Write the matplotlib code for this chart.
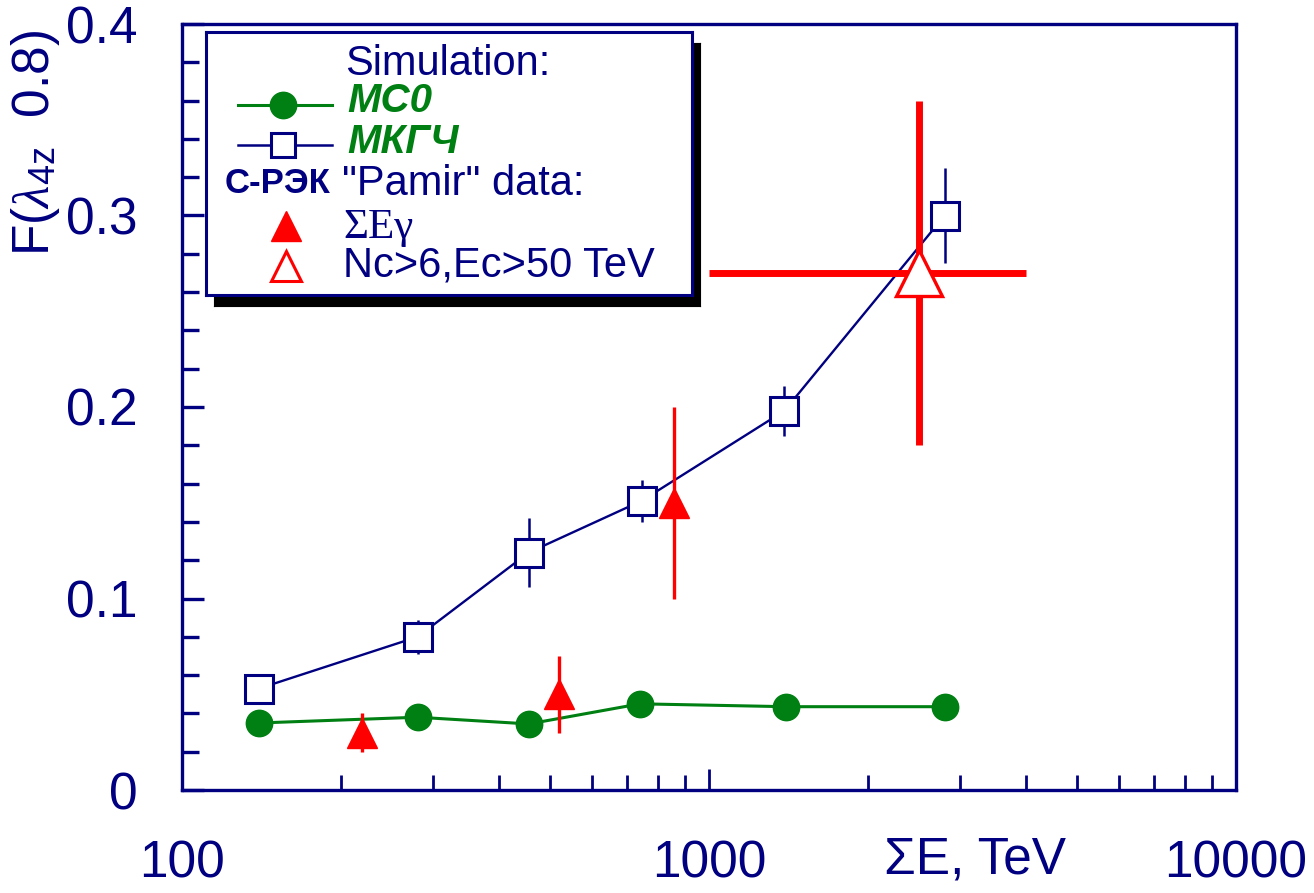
import matplotlib
matplotlib.use("Agg")
import matplotlib.pyplot as plt
from matplotlib.ticker import FixedLocator, NullFormatter, MultipleLocator, FuncFormatter
from matplotlib.lines import Line2D

NAVY = "#000080"
GREEN = "#007f12"
RED = "#ff0000"

plt.rcParams["font.family"] = ["Liberation Sans", "DejaVu Sans"]
plt.rcParams["mathtext.fontset"] = "custom"
plt.rcParams["mathtext.rm"] = "Liberation Sans"
plt.rcParams["mathtext.it"] = "Liberation Serif:italic"

# simulation MC0
mc0_e = [140, 280, 455, 740, 1400, 2800]
mc0_f = [0.035, 0.038, 0.0345, 0.045, 0.0435, 0.0435]

# simulation MKGCh
mkg_e = [140, 280, 455, 745, 1390, 2800]
mkg_f = [0.053, 0.080, 0.124, 0.151, 0.198, 0.300]
mkg_err = [0.0, 0.009, 0.018, 0.011, 0.013, 0.025]

# Pamir data, sum E gamma
seg_e = [220, 520, 860]
seg_f = [0.030, 0.050, 0.150]
seg_lo = [0.010, 0.020, 0.050]
seg_hi = [0.010, 0.020, 0.050]

# Pamir data, Nc>6, Ec>50 TeV
nc_e = [2500]
nc_f = [0.27]
nc_xlo = [1500]
nc_xhi = [1500]
nc_yerr = [0.09]

fig = plt.figure(figsize=(13.14, 8.93), dpi=100)
ax = fig.add_axes([182 / 1314, 103 / 893, 1054 / 1314, 766 / 893])

ax.plot(mc0_e, mc0_f, color=GREEN, lw=2.2, marker="o", ms=19,
        mfc=GREEN, mec=GREEN, zorder=3)

ax.errorbar(mkg_e, mkg_f, yerr=mkg_err, color=NAVY, lw=1.7, elinewidth=1.8,
            capsize=0, zorder=4)
ax.plot(mkg_e, mkg_f, ls="none", marker="s", ms=20, mfc="white", mec=NAVY,
        mew=2.2, zorder=5)

ax.errorbar(seg_e, seg_f, yerr=[seg_lo, seg_hi], ls="none", marker="^",
            ms=21, color=RED, mfc=RED, mec=RED, elinewidth=2.4, capsize=0,
            zorder=6)

ax.errorbar(nc_e, nc_f, xerr=[nc_xlo, nc_xhi], yerr=nc_yerr, ls="none",
            color=RED, elinewidth=5, capsize=0, zorder=6)
ax.plot(nc_e, nc_f, ls="none", marker="^", ms=33, mfc="white", mec=RED,
        mew=2.4, zorder=7)

ax.set_xscale("log")
ax.set_xlim(100, 10000)
ax.set_ylim(0, 0.4)

for side in ["top", "right", "bottom", "left"]:
    ax.spines[side].set_color(NAVY)
    ax.spines[side].set_linewidth(2.4)

ax.xaxis.set_major_locator(FixedLocator([100, 1000, 10000]))
ax.xaxis.set_minor_locator(FixedLocator(
    [k * 100 for k in range(2, 10)] + [k * 1000 for k in range(2, 10)]))
ax.xaxis.set_minor_formatter(NullFormatter())
ax.xaxis.set_major_formatter(FuncFormatter(lambda v, p: "%d" % round(v)))
ax.yaxis.set_major_locator(MultipleLocator(0.1))
ax.yaxis.set_minor_locator(MultipleLocator(0.02))
ax.yaxis.set_major_formatter(FuncFormatter(lambda v, p: "0" if v == 0 else "%.1f" % v))

ax.tick_params(which="both", direction="in", colors=NAVY, top=False, right=False)
ax.tick_params(axis="x", which="major", length=15, width=2, pad=36, labelsize=37)
ax.tick_params(axis="x", which="minor", length=11, width=2)
ax.tick_params(axis="y", which="major", length=16, width=2.4, pad=32, labelsize=37)
ax.tick_params(axis="y", which="minor", length=12, width=2.4)

fig.text(975 / 1314, 33 / 893, "\u03a3E, TeV", fontsize=37, color=NAVY,
         ha="center", va="center")
fig.text(36 / 1314, 1 - 143 / 893, r"F($\lambda$$_{\rm 4z}$  0.8)",
         fontsize=37, color=NAVY, rotation=90, ha="center", va="center")

# legend box with drop shadow
bx, by, bw, bh = 206, 32, 486, 263
shadow = fig.add_axes([(bx + 8) / 1314, 1 - (by + bh + 11) / 893, bw / 1314, bh / 893])
shadow.set_facecolor("black")
shadow.set_xticks([])
shadow.set_yticks([])
leg = fig.add_axes([bx / 1314, 1 - (by + bh) / 893, bw / 1314, bh / 893])
leg.set_xlim(0, bw)
leg.set_ylim(bh, 0)
leg.set_xticks([])
leg.set_yticks([])
for s in leg.spines.values():
    s.set_color(NAVY)
    s.set_linewidth(2.2)

leg.text(139, 43, "Simulation:", fontsize=30, color=NAVY, va="baseline")
leg.add_line(Line2D([32, 126], [73, 73], color=GREEN, lw=2.2))
leg.add_line(Line2D([77], [73], marker="o", ms=19, color=GREEN))
leg.text(141, 80, "MC0", fontsize=29, color=GREEN, weight="bold",
         style="italic", va="baseline")
leg.add_line(Line2D([32, 126], [113, 113], color=NAVY, lw=1.8))
leg.add_line(Line2D([77], [113], marker="s", ms=17, mfc="white", mec=NAVY, mew=2.2))
leg.text(141, 121, "МКГЧ", fontsize=29, color=GREEN, weight="bold",
         style="italic", va="baseline")
leg.text(19, 161, "С-РЭК", fontsize=25, color=NAVY, weight="bold", va="baseline")
leg.text(136, 163, "\"Pamir\" data:", fontsize=30, color=NAVY, va="baseline")
leg.add_line(Line2D([80], [194], marker="^", ms=21, color=RED))
leg.text(137, 206, "\u03a3E\u03b3", fontsize=31, color=NAVY, va="baseline",
         family="Liberation Serif")
leg.add_line(Line2D([80], [234], marker="^", ms=21, mfc="white", mec=RED, mew=2.2))
leg.text(137, 245, "Nc>6,Ec>50 TeV", fontsize=30, color=NAVY, va="baseline")

fig.savefig("out.png", dpi=100)
